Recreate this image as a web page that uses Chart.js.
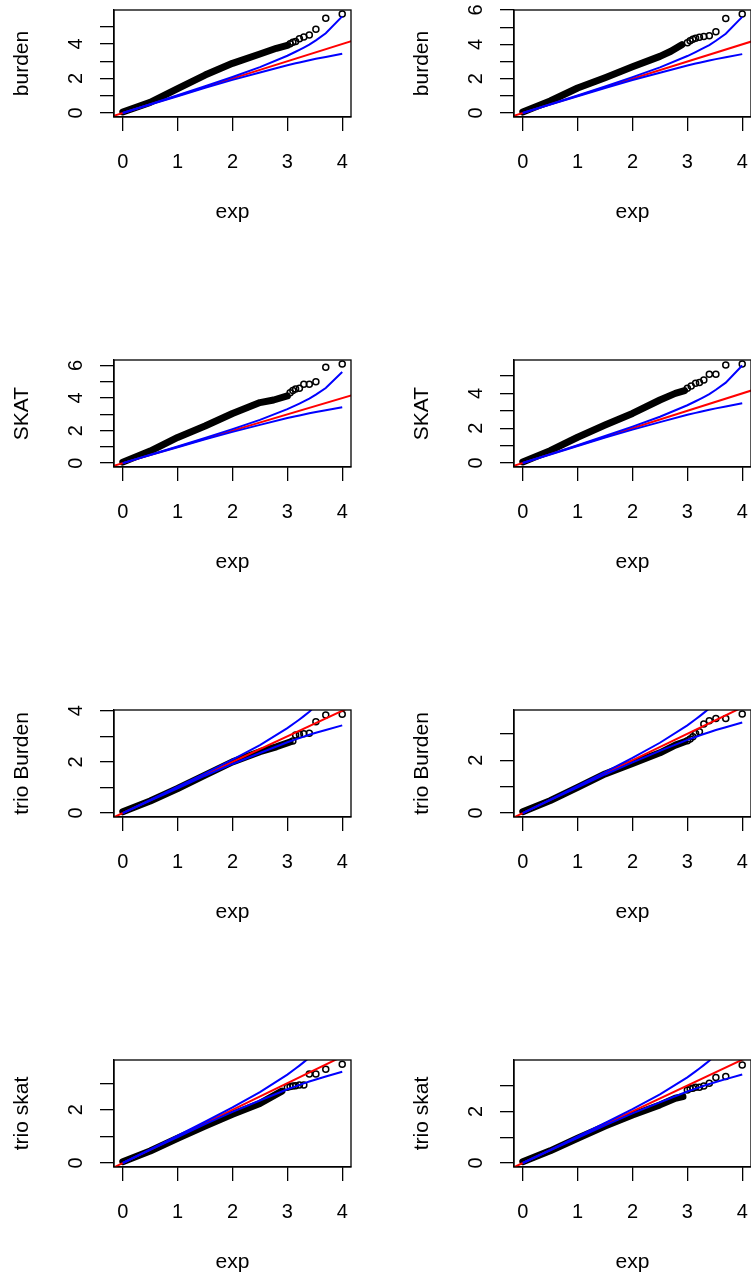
<!DOCTYPE html>
<html>
<head>
<meta charset="utf-8">
<script src="https://cdn.jsdelivr.net/npm/chart.js@4"></script>
<style>
body { margin: 0; background: #fff; }
#wrap { position: relative; width: 751px; height: 1279px; overflow: hidden; }
#wrap canvas { position: absolute; }
</style>
</head>
<body>
<div id="wrap"></div>
<script>
// panel order: row by row, left then right
var panelNames = ['burden', 'burden', 'SKAT', 'SKAT', 'trio Burden', 'trio Burden', 'trio skat', 'trio skat'];
var yMin = [-0.23, -0.23, -0.24, -0.23, -0.155, -0.15, -0.15, -0.155];
var yMax = [5.97, 6.0, 6.34, 5.92, 4.03, 3.9, 3.87, 3.99];
var xTicks = [0, 1, 2, 3, 4];
var yTicks = [[0, 1, 2, 3, 4, 5], [0, 1, 2, 3, 4, 5, 6], [0, 1, 2, 3, 4, 5, 6], [0, 1, 2, 3, 4, 5],
              [0, 1, 2, 3, 4], [0, 1, 2, 3], [0, 1, 2, 3], [0, 1, 2, 3]];

// dense part of the observed -log10 p (drawn as a thick band)
var bulkExp = [
  [0, 0.5, 1, 1.5, 2, 2.5, 2.8, 3.0],
  [0, 0.5, 1, 1.5, 2, 2.5, 2.7, 2.9],
  [0, 0.5, 1, 1.5, 2, 2.5, 2.75, 3.0],
  [0, 0.5, 1, 1.5, 2, 2.5, 2.78, 2.95],
  [0, 0.5, 1, 1.5, 2, 2.5, 2.8, 3.05],
  [0, 0.5, 1, 1.5, 2, 2.5, 2.78, 2.95],
  [0, 0.5, 1, 1.5, 2, 2.5, 2.9],
  [0, 0.5, 1, 1.5, 2, 2.5, 2.78, 2.92]
];
var bulkObs = [
  [0.06, 0.62, 1.42, 2.2, 2.88, 3.42, 3.75, 3.92],
  [0.06, 0.7, 1.46, 2.06, 2.7, 3.3, 3.6, 3.98],
  [0.06, 0.74, 1.58, 2.28, 3.05, 3.72, 3.88, 4.13],
  [0.06, 0.71, 1.48, 2.18, 2.85, 3.62, 4.0, 4.16],
  [0.05, 0.47, 0.96, 1.48, 2.0, 2.4, 2.59, 2.78],
  [0.05, 0.47, 0.97, 1.48, 1.88, 2.28, 2.57, 2.7],
  [0.05, 0.45, 0.93, 1.39, 1.83, 2.24, 2.7],
  [0.05, 0.47, 0.96, 1.43, 1.86, 2.25, 2.51, 2.57]
];

// sparse top tail, drawn as open circles
var tailExp = [
  [3.05, 3.1, 3.15, 3.22, 3.3, 3.4, 3.52, 3.7, 4.0],
  [3.0, 3.05, 3.1, 3.15, 3.22, 3.3, 3.4, 3.52, 3.7, 4.0],
  [3.05, 3.1, 3.15, 3.22, 3.3, 3.4, 3.52, 3.7, 4.0],
  [3.0, 3.07, 3.15, 3.22, 3.3, 3.4, 3.52, 3.7, 4.0],
  [3.1, 3.15, 3.22, 3.3, 3.4, 3.52, 3.7, 4.0],
  [3.0, 3.05, 3.1, 3.15, 3.22, 3.3, 3.4, 3.52, 3.7, 4.0],
  [3.0, 3.05, 3.1, 3.15, 3.22, 3.3, 3.4, 3.52, 3.7, 4.0],
  [3.0, 3.05, 3.1, 3.15, 3.22, 3.3, 3.4, 3.52, 3.7, 4.0]
];
var tailObs = [
  [4.02, 4.1, 4.15, 4.3, 4.4, 4.52, 4.85, 5.49, 5.74],
  [4.1, 4.21, 4.3, 4.35, 4.41, 4.45, 4.5, 4.74, 5.51, 5.77],
  [4.33, 4.46, 4.56, 4.6, 4.85, 4.85, 5.01, 5.89, 6.1],
  [4.29, 4.43, 4.58, 4.62, 4.77, 5.1, 5.1, 5.63, 5.69],
  [2.82, 3.05, 3.07, 3.1, 3.12, 3.57, 3.83, 3.86],
  [2.74, 2.8, 2.89, 3.01, 3.08, 3.37, 3.49, 3.58, 3.58, 3.75],
  [2.85, 2.87, 2.89, 2.9, 2.93, 2.93, 3.34, 3.34, 3.52, 3.71],
  [2.83, 2.89, 2.9, 2.93, 2.93, 2.98, 3.09, 3.31, 3.35, 3.8]
];

// 95% band, same in every panel
var bandExp = [0, 0.5, 1, 1.5, 2, 2.5, 3, 3.15, 3.22, 3.3, 3.4, 3.52, 3.7, 4.0];
var bandUpper = [0, 0.51, 1.03, 1.55, 2.09, 2.66, 3.32, 3.55, 3.66, 3.79, 3.96, 4.21, 4.62, 5.6];
var bandLower = [0, 0.49, 0.97, 1.46, 1.92, 2.35, 2.77, 2.88, 2.93, 2.99, 3.06, 3.14, 3.25, 3.43];
var diagEnds = [-0.5, 4.5];

var FONT = '"Liberation Sans", Arial, sans-serif';
Chart.defaults.font.family = FONT;
Chart.defaults.color = '#000';

function pts(xs, ys) {
  return xs.map(function (x, i) { return { x: x, y: ys[i] }; });
}

var rBox = {
  id: 'rBox',
  afterDraw: function (chart) {
    var a = chart.chartArea, ctx = chart.ctx, ys = chart.scales.y;
    ctx.save();
    ctx.strokeStyle = '#000';
    ctx.lineWidth = 1.3;
    ctx.strokeRect(a.left, a.top, a.right - a.left, a.bottom - a.top);
    // y tick labels, written along the axis like R does
    ctx.font = '20px ' + FONT;
    ctx.fillStyle = '#000';
    ctx.textAlign = 'center';
    ctx.textBaseline = 'alphabetic';
    ys.ticks.forEach(function (t) {
      if (t.value % 2 !== 0) return;
      var py = ys.getPixelForValue(t.value);
      ctx.save();
      ctx.translate(75 + 7.2, py);
      ctx.rotate(-Math.PI / 2);
      ctx.fillText(String(t.value), 0, 0);
      ctx.restore();
    });
    ctx.restore();
  }
};

var wrap = document.getElementById('wrap');
panelNames.forEach(function (name, p) {
  var cv = document.createElement('canvas');
  cv.width = 400;
  cv.height = 350;
  cv.style.left = (p % 2) * 400 + 'px';
  cv.style.top = Math.floor(p / 2) * 350 + 'px';
  wrap.appendChild(cv);

  var diag = pts(diagEnds, diagEnds);
  new Chart(cv.getContext('2d'), {
    type: 'scatter',
    data: {
      datasets: [
        { data: pts(bandExp, bandUpper), showLine: true, borderColor: '#0000ff', borderWidth: 2, pointRadius: 0, clip: 0 },
        { data: pts(bandExp, bandLower), showLine: true, borderColor: '#0000ff', borderWidth: 2, pointRadius: 0, clip: 0 },
        { data: diag, showLine: true, borderColor: '#ff0000', borderWidth: 2, pointRadius: 0, clip: 0 },
        { data: pts(tailExp[p], tailObs[p]), showLine: false, pointRadius: 3, borderWidth: 1.5,
          borderColor: '#000', backgroundColor: 'rgba(0,0,0,0)', pointStyle: 'circle' },
        { data: pts(bulkExp[p], bulkObs[p]), showLine: true, borderColor: '#000', borderWidth: 7,
          pointRadius: 0, borderCapStyle: 'round', borderJoinStyle: 'round' }
      ]
    },
    options: {
      responsive: false,
      animation: false,
      events: [],
      layout: { padding: { left: 0, right: 49, top: 10, bottom: 0 } },
      plugins: { legend: { display: false }, tooltip: { enabled: false } },
      scales: {
        x: {
          type: 'linear', min: -0.16, max: 4.16,
          afterBuildTicks: function (s) { s.ticks = xTicks.map(function (v) { return { value: v }; }); },
          afterFit: function (s) { s.height = 233; },
          ticks: { font: { size: 20 }, color: '#000', padding: 19 },
          grid: { drawOnChartArea: false, drawTicks: true, tickLength: 14, color: '#000', lineWidth: 1.3 },
          border: { display: true, color: '#000', width: 1.3 },
          title: { display: true, text: 'exp', font: { size: 21 }, color: '#000', padding: { bottom: 125 } }
        },
        y: {
          type: 'linear', min: yMin[p], max: yMax[p],
          afterBuildTicks: function (s) { s.ticks = yTicks[p].map(function (v) { return { value: v }; }); },
          afterFit: function (s) { s.width = 114; },
          ticks: { display: false },
          grid: { drawOnChartArea: false, drawTicks: true, tickLength: 14, color: '#000', lineWidth: 1.3 },
          border: { display: true, color: '#000', width: 1.3 },
          title: { display: true, text: name, font: { size: 21 }, color: '#000', padding: { top: 10 } }
        }
      }
    },
    plugins: [rBox]
  });
});
</script>
</body>
</html>
